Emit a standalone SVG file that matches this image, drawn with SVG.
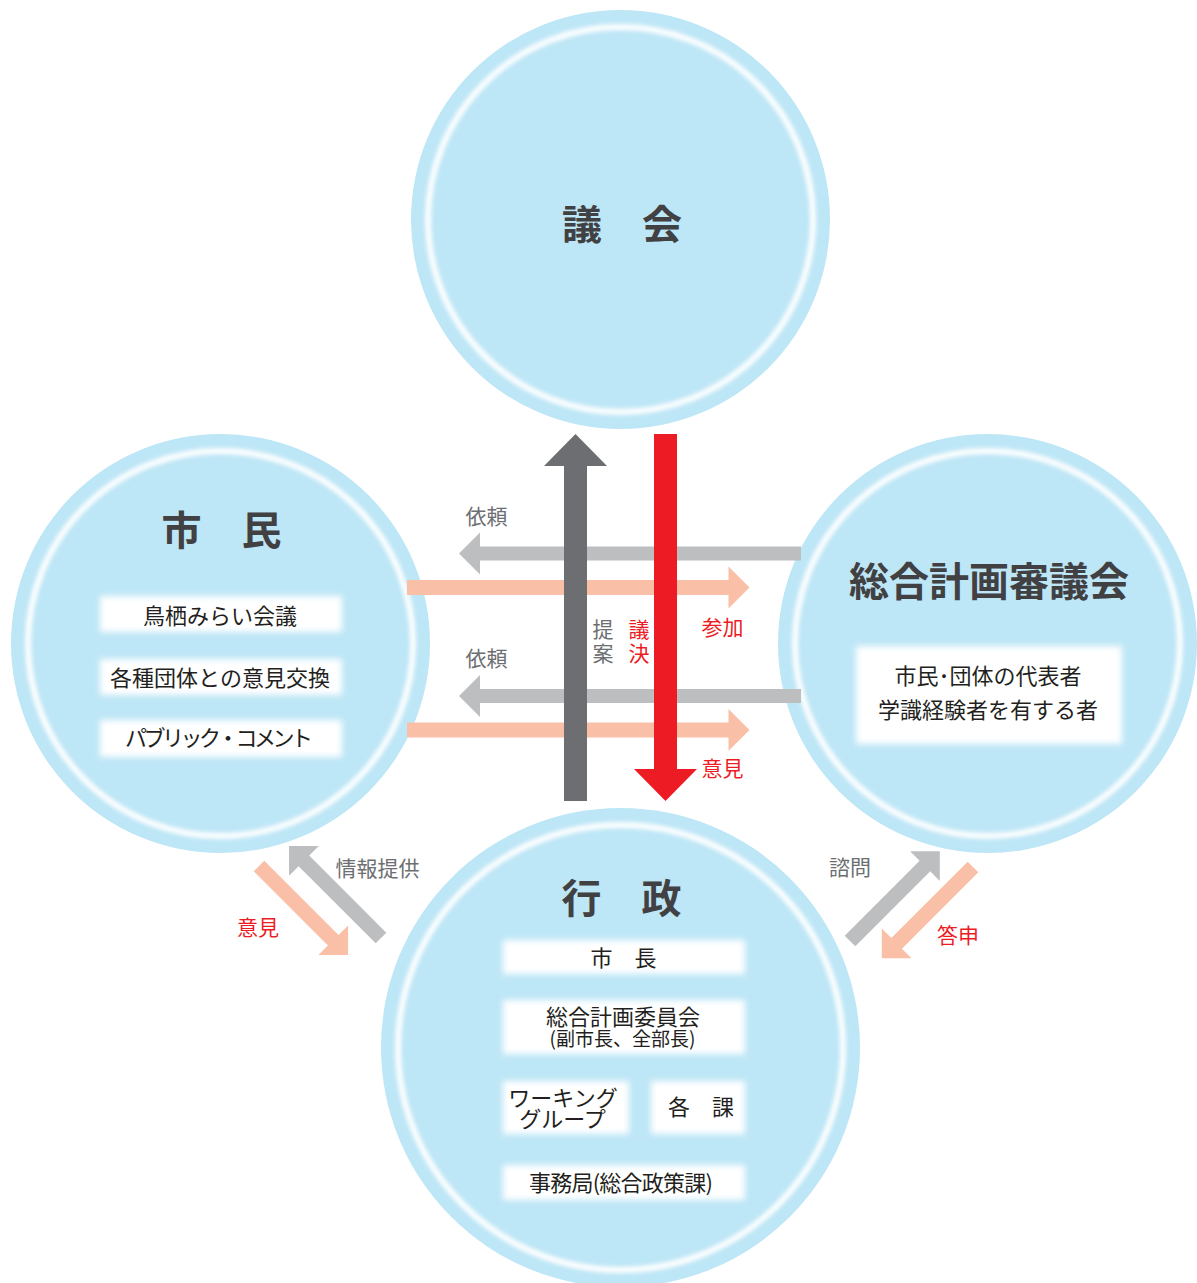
<svg xmlns="http://www.w3.org/2000/svg" width="1197" height="1283" viewBox="0 0 1197 1283">
<style>
  text { font-family: "Noto Sans CJK JP", "Noto Sans", sans-serif; }
  .disc { fill: #bde6f6; }
  .ring { fill: none; stroke: #ffffff; stroke-width: 6; filter: url(#ringblur); }
  .box { fill: #ffffff; filter: url(#soft); }
  .title { font-size: 40px; font-weight: 700; fill: #414042; text-anchor: middle; }
  .body { font-size: 22px; fill: #231f20; text-anchor: middle; }
  .lbl-g { font-size: 21px; fill: #6d6e71; text-anchor: middle; }
  .lbl-r { font-size: 21px; fill: #ed1c24; text-anchor: middle; }
  .a-dark { fill: #6d6e71; }
  .a-red { fill: #ed1c24; }
  .a-light { fill: #bcbec0; }
  .a-peach { fill: #f9bfa7; }
</style>
<defs>
  <filter id="soft" x="-20%" y="-50%" width="140%" height="200%">
    <feGaussianBlur stdDeviation="3"/>
  </filter>
  <filter id="ringblur" x="-10%" y="-10%" width="120%" height="120%">
    <feGaussianBlur stdDeviation="2"/>
  </filter>
</defs>
<rect width="1197" height="1283" fill="#ffffff"/>

<g id="node-gikai">
  <circle class="disc" cx="620.5" cy="219.5" r="209.5"/>
  <circle class="ring" cx="620.5" cy="219.5" r="192.5"/>
  <text class="title" x="622" y="238.5">議　会</text>
</g>

<g id="node-shimin">
  <circle class="disc" cx="220.5" cy="643.5" r="209.5"/>
  <circle class="ring" cx="220.5" cy="643.5" r="192.5"/>
  <text class="title" x="221.5" y="544.5">市　民</text>
  <rect class="box" x="100" y="596" width="242" height="36"/>
  <rect class="box" x="100" y="659" width="242" height="36"/>
  <rect class="box" x="100" y="720" width="242" height="37"/>
  <text class="body" x="220" y="623.5">鳥栖みらい会議</text>
  <text class="body" x="220" y="685.5">各種団体との意見交換</text>
  <text class="body" x="219" y="745.5" textLength="188" lengthAdjust="spacing">パブリック・コメント</text>
</g>

<g id="node-shingikai">
  <circle class="disc" cx="987.5" cy="643.5" r="209.5"/>
  <circle class="ring" cx="987.5" cy="643.5" r="192.5"/>
  <text class="title" x="989" y="595.5">総合計画審議会</text>
  <rect class="box" x="856" y="646" width="266" height="98"/>
  <text class="body" x="988" y="683.5">市民･団体の代表者</text>
  <text class="body" x="988" y="717.5">学識経験者を有する者</text>
</g>

<g id="node-gyosei">
  <circle class="disc" cx="620.5" cy="1047.5" r="239.5"/>
  <circle class="ring" cx="620.5" cy="1047.5" r="222.5"/>
  <text class="title" x="621.5" y="912.5">行　政</text>
  <rect class="box" x="503" y="940" width="242" height="34"/>
  <rect class="box" x="503" y="1000" width="242" height="54"/>
  <rect class="box" x="503" y="1081" width="126" height="53"/>
  <rect class="box" x="651" y="1081" width="94" height="53"/>
  <rect class="box" x="503" y="1165" width="242" height="35"/>
  <text class="body" x="623.5" y="965.5">市　長</text>
  <text class="body" x="623" y="1024.5">総合計画委員会</text>
  <text class="body" x="622.5" y="1045.5" style="font-size:19.5px" textLength="146" lengthAdjust="spacingAndGlyphs">(副市長、全部長)</text>
  <text class="body" x="563" y="1105.5">ワーキング</text>
  <text class="body" x="562.5" y="1126.5">グループ</text>
  <text class="body" x="701" y="1114.5">各　課</text>
  <text class="body" x="621" y="1190.5" textLength="184" lengthAdjust="spacing">事務局(総合政策課)</text>
</g>

<g id="connectors">
  <path class="a-light" d="M801,546.5 L480,546.5 L480,532.5 L459,553.5 L480,574.5 L480,560.5 L801,560.5 Z"/>
  <path class="a-peach" d="M407,580 L728.5,580 L728.5,566.5 L749.5,587.5 L728.5,608.5 L728.5,595 L407,595 Z"/>
  <path class="a-light" d="M801,689 L480,689 L480,675 L459,696 L480,717 L480,703 L801,703 Z"/>
  <path class="a-peach" d="M407,722.5 L728.5,722.5 L728.5,709 L749.5,730 L728.5,751 L728.5,737.5 L407,737.5 Z"/>
  <path class="a-dark" d="M564,801 L564,466 L544,466 L575.5,434 L607,466 L587,466 L587,801 Z"/>
  <path class="a-red" d="M654,434 L677,434 L677,769 L697,769 L665.5,801 L634,769 L654,769 Z"/>
  <path class="a-light" transform="translate(381,938) rotate(-135)" d="M0,-7.5 L109,-7.5 L109,-21 L130,0 L109,21 L109,7.5 L0,7.5 Z"/>
  <path class="a-peach" transform="translate(259,866) rotate(45)" d="M0,-7.5 L105,-7.5 L105,-21 L126,0 L105,21 L105,7.5 L0,7.5 Z"/>
  <path class="a-light" transform="translate(850,941) rotate(-45)" d="M0,-7.5 L106,-7.5 L106,-21 L127,0 L106,21 L106,7.5 L0,7.5 Z"/>
  <path class="a-peach" transform="translate(973,867) rotate(135)" d="M0,-7.5 L108,-7.5 L108,-21 L129,0 L108,21 L108,7.5 L0,7.5 Z"/>
  <text class="lbl-g" x="486.5" y="523.5">依頼</text>
  <text class="lbl-g" x="486.5" y="665.5">依頼</text>
  <text class="lbl-r" x="722.5" y="634.5">参加</text>
  <text class="lbl-r" x="722.5" y="775.5">意見</text>
  <text class="lbl-g" x="603" y="636.5">提</text>
  <text class="lbl-g" x="603" y="660.5">案</text>
  <text class="lbl-r" x="639" y="636.5">議</text>
  <text class="lbl-r" x="639" y="660.5">決</text>
  <text class="lbl-g" x="377.5" y="875.5">情報提供</text>
  <text class="lbl-r" x="258" y="934.5">意見</text>
  <text class="lbl-g" x="850" y="874.5">諮問</text>
  <text class="lbl-r" x="958" y="942.5">答申</text>
</g>
</svg>
